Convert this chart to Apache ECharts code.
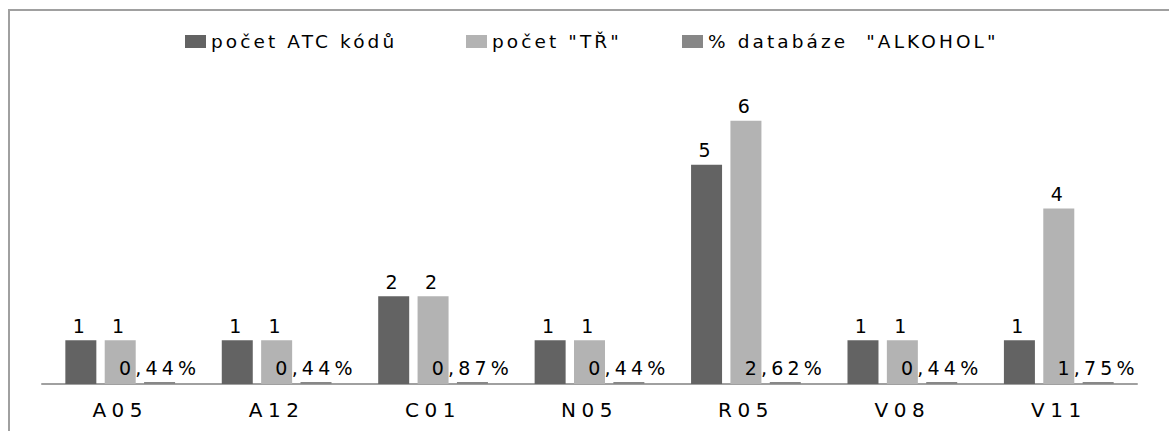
<!DOCTYPE html>
<html>
<head>
<meta charset="utf-8">
<script src="https://cdn.jsdelivr.net/npm/echarts@6/dist/echarts.min.js"></script>
<style>
  html, body { margin: 0; padding: 0; background: #fff; }
  #chart { width: 1169px; height: 431px; letter-spacing: 3px; }
  /* wider tracking per text role (roles differ by font size) */
  #chart text[style*="18.5px"] { letter-spacing: 3.1px; }
  #chart text[style*="19px"] { letter-spacing: 4.2px; }
  #chart text[style*="20px"] { letter-spacing: 5.5px; }
</style>
</head>
<body>
<div id="chart"></div>
<script>
// ATC groups on the category axis
const categories = ['A05', 'A12', 'C01', 'N05', 'R05', 'V08', 'V11'];
// number of ATC codes per group
const atcCounts = [1, 1, 2, 1, 5, 1, 1];
// number of "TŘ" per group
const trCounts = [1, 1, 2, 1, 6, 1, 4];
// share of the "ALKOHOL" database (fraction)
const alcoholShare = [0.0044, 0.0044, 0.0087, 0.0044, 0.0262, 0.0044, 0.0175];

const seriesNames = ['počet ATC kódů', 'počet "TŘ"', '% databáze  "ALKOHOL"'];
const colors = ['#636363', '#b3b3b3', '#878787'];

const font = 'DejaVu Sans';
const chart = echarts.init(document.getElementById('chart'), null, { renderer: 'svg' });

function legendAt(left, idx) {
  return {
    left: left,
    top: 27,
    data: [seriesNames[idx]],
    icon: 'rect',
    itemWidth: 21,
    itemHeight: 13,
    itemGap: 0,
    selectedMode: false,
    textStyle: { fontFamily: font, fontSize: 18.5, color: '#000', padding: [0, 0, 0, 0] }
  };
}

const valueLabel = {
  show: true,
  position: 'top',
  distance: 5,
  fontFamily: font,
  fontSize: 19,
  color: '#000'
};

chart.setOption({
  animation: false,
  backgroundColor: '#fff',
  color: colors,
  legend: [legendAt(180, 0), legendAt(461, 1), legendAt(677, 2)],
  grid: { left: 42, right: 32, top: 77, bottom: 47 },
  xAxis: {
    type: 'category',
    data: categories,
    axisLine: { lineStyle: { color: '#a0a0a0', width: 2 } },
    axisTick: { show: false },
    axisLabel: { fontFamily: font, fontSize: 20, color: '#000', margin: 16 }
  },
  yAxis: {
    type: 'value',
    min: 0,
    max: 7,
    interval: 1,
    show: false,
    splitLine: { show: false }
  },
  graphic: [{
    type: 'rect',
    shape: { x: 9, y: 10, width: 1300, height: 600 },
    style: { fill: 'none', stroke: '#a0a0a0', lineWidth: 2 },
    silent: true,
    z: -1
  }],
  series: [
    {
      name: seriesNames[0],
      type: 'bar',
      data: atcCounts,
      barWidth: 31,
      barGap: '27%',
      label: valueLabel
    },
    {
      name: seriesNames[1],
      type: 'bar',
      data: trCounts,
      barWidth: 31,
      barGap: '27%',
      label: valueLabel
    },
    {
      name: seriesNames[2],
      type: 'bar',
      data: alcoholShare,
      barWidth: 31,
      barGap: '27%',
      barMinHeight: 2,
      label: Object.assign({}, valueLabel, {
        formatter: p => (p.value * 100).toFixed(2).replace('.', ',') + '%'
      })
    }
  ]
});
</script>
</body>
</html>
